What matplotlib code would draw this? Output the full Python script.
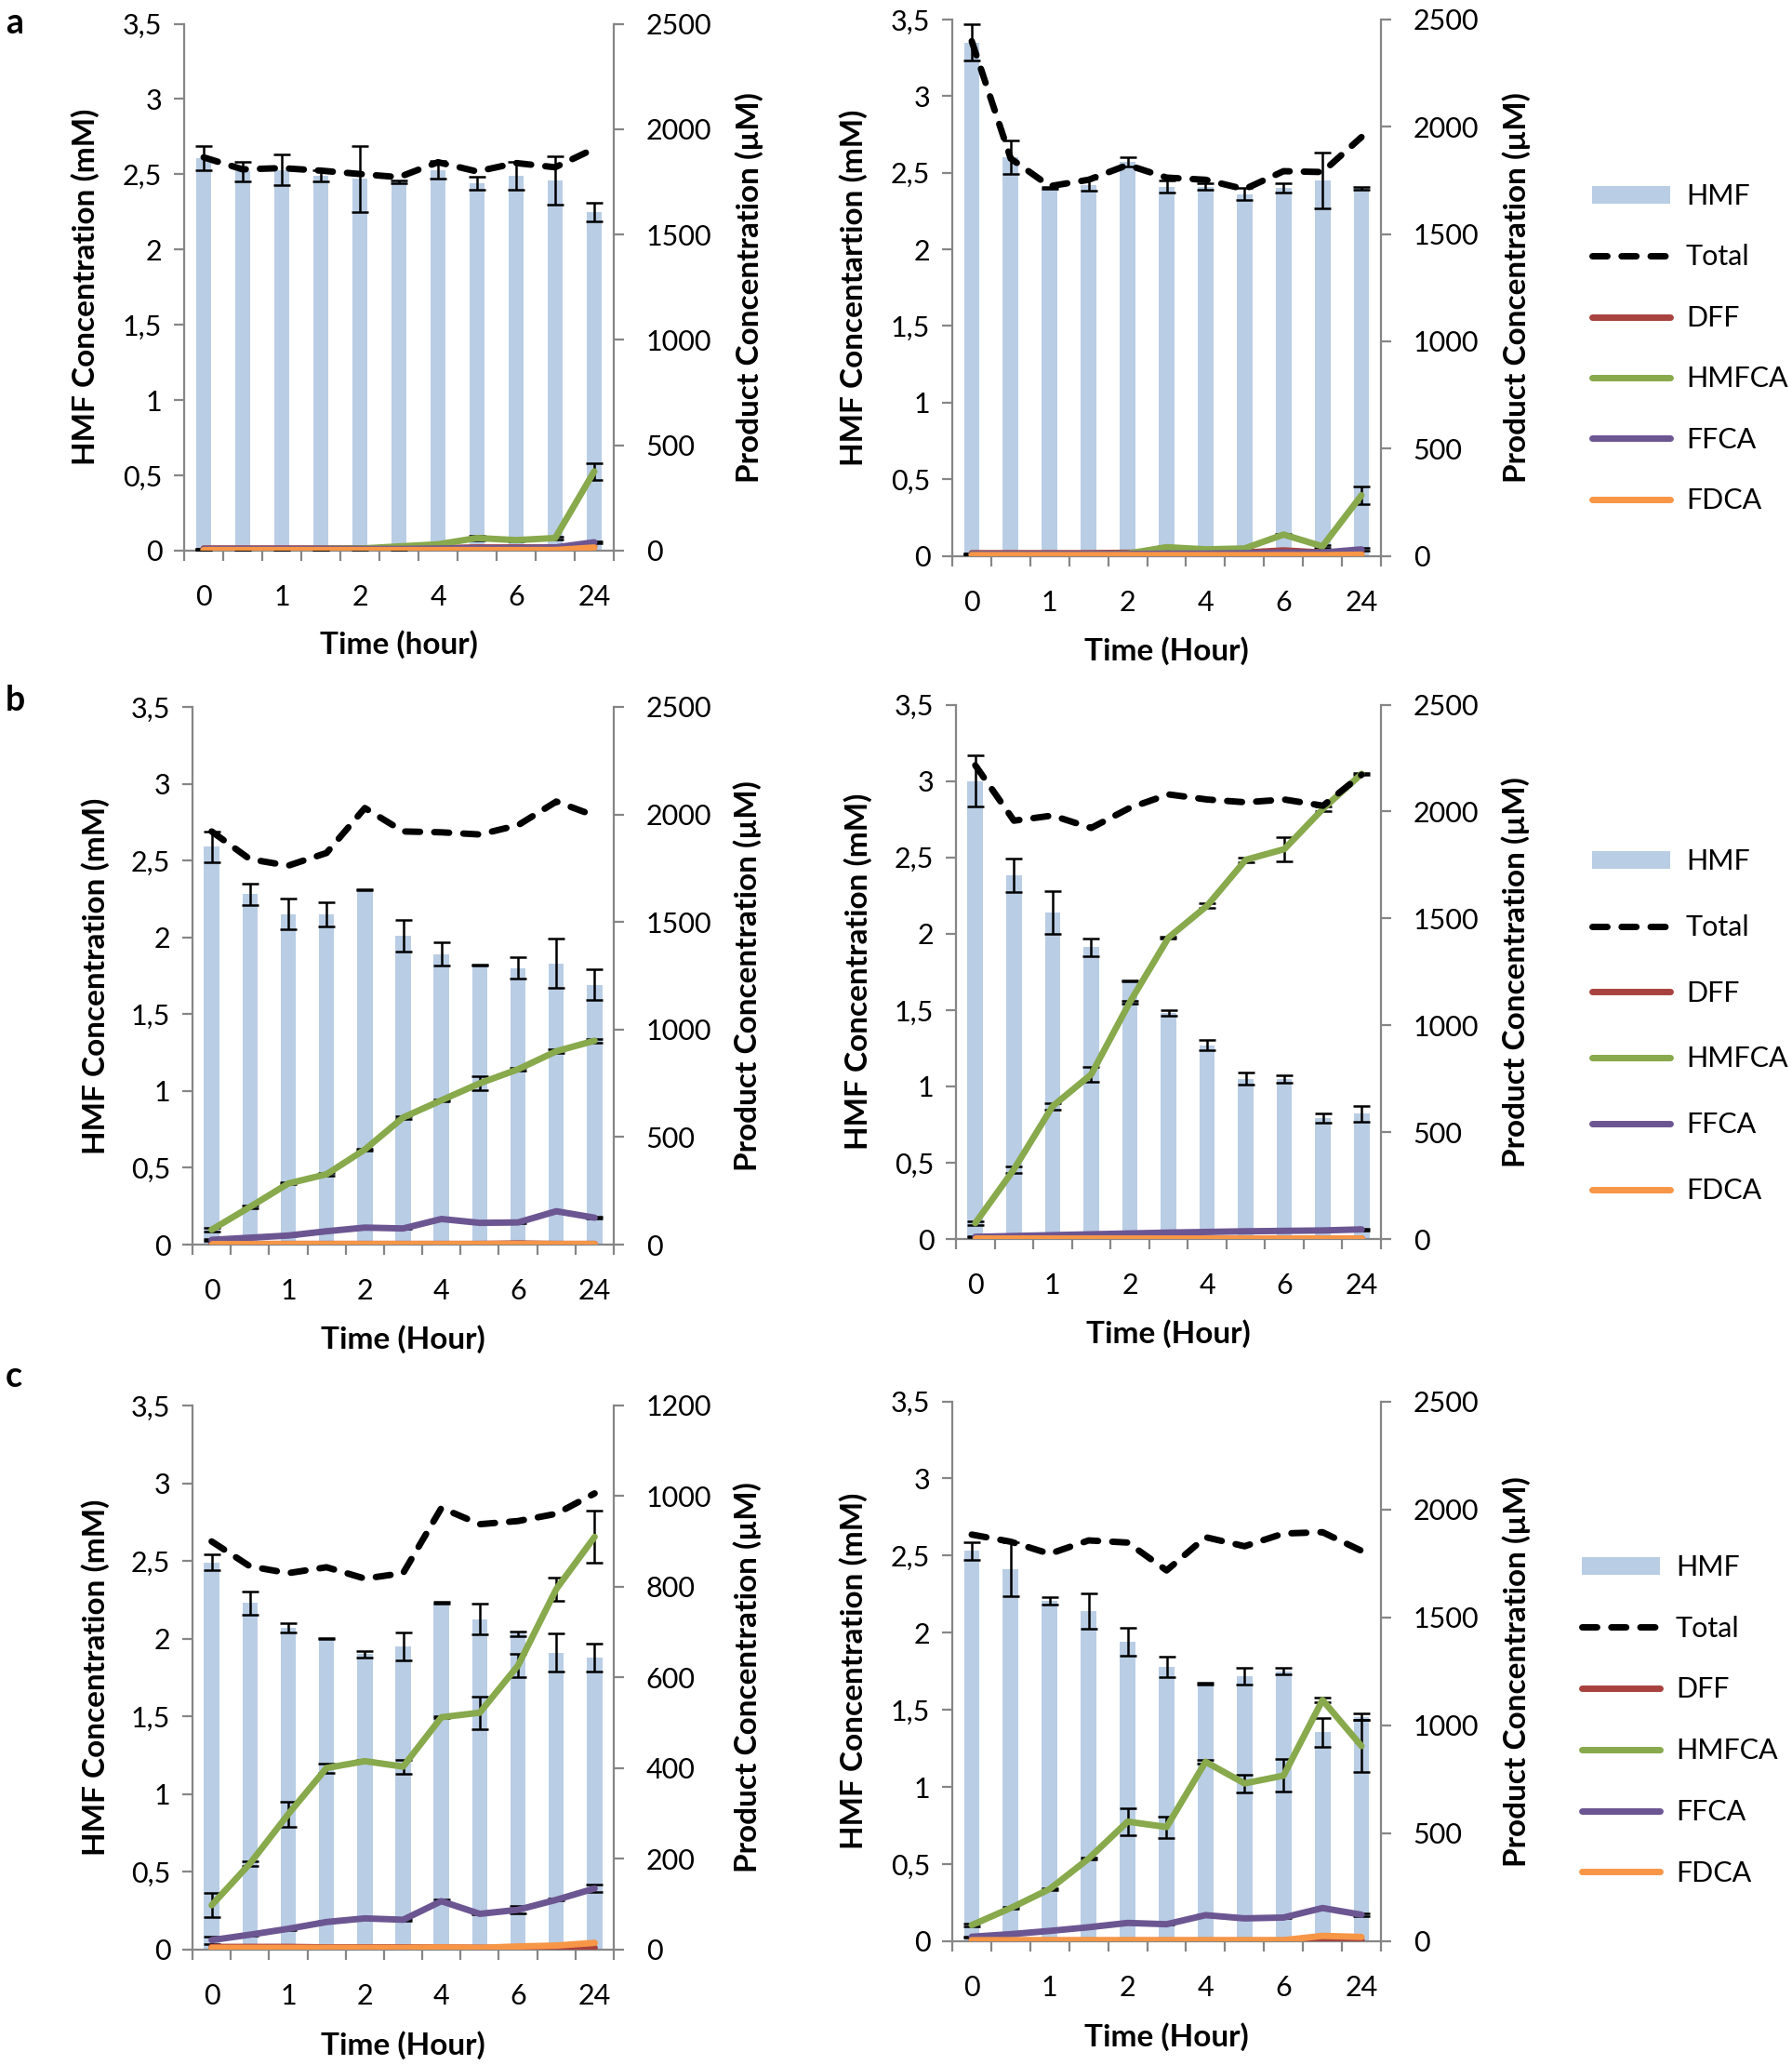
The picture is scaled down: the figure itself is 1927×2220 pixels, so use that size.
import numpy as np
import matplotlib
matplotlib.use("Agg")
import matplotlib.pyplot as plt
from matplotlib.patches import Patch
from matplotlib.lines import Line2D

# ---------------- data ----------------
x_tick_labels = ["0", "", "1", "", "2", "", "4", "", "6", "", "24"]
left_tick_labels = ["0", "0,5", "1", "1,5", "2", "2,5", "3", "3,5"]
series_names = ["HMF", "Total", "DFF", "HMFCA", "FFCA", "FDCA"]

# panel a, left
hmf_a1 = [2.61, 2.52, 2.53, 2.49, 2.47, 2.45, 2.53, 2.44, 2.49, 2.46, 2.25]
hmf_a1_err = [0.08, 0.065, 0.10, 0.04, 0.22, 0.01, 0.06, 0.045, 0.09, 0.16, 0.06]
total_a1 = [1866, 1809, 1815, 1803, 1787, 1772, 1843, 1799, 1839, 1819, 1907]
dff_a1 = [10, 10, 10, 10, 10, 10, 12, 15, 15, 15, 20]
hmfca_a1 = [5, 5, 6, 8, 10, 20, 30, 60, 50, 60, 376]
hmfca_a1_err = [2, 2, 2, 2, 2, 3, 3, 10, 5, 8, 40]
ffca_a1 = [8, 8, 8, 8, 8, 8, 10, 12, 12, 15, 40]
ffca_a1_err = [2, 2, 2, 2, 2, 2, 2, 2, 2, 2, 5]
fdca_a1 = [3, 3, 3, 3, 3, 3, 3, 3, 3, 3, 15]

# panel a, right
hmf_a2 = [3.35, 2.60, 2.40, 2.42, 2.57, 2.41, 2.41, 2.36, 2.40, 2.45, 2.40]
hmf_a2_err = [0.12, 0.11, 0.005, 0.04, 0.03, 0.04, 0.02, 0.04, 0.03, 0.18, 0.01]
total_a2 = [2399, 1852, 1723, 1753, 1822, 1763, 1753, 1709, 1793, 1789, 1952]
dff_a2 = [12, 12, 12, 12, 14, 15, 15, 15, 25, 15, 20]
hmfca_a2 = [8, 8, 8, 8, 10, 40, 30, 34, 99, 44, 282]
hmfca_a2_err = [2, 2, 2, 2, 2, 5, 3, 3, 5, 5, 43]
ffca_a2 = [8, 8, 8, 8, 8, 10, 10, 12, 15, 15, 30]
ffca_a2_err = [2, 2, 2, 2, 2, 2, 2, 2, 2, 2, 5]
fdca_a2 = [3, 3, 3, 3, 3, 3, 3, 3, 3, 3, 5]

# panel b, left
hmf_b1 = [2.59, 2.28, 2.15, 2.15, 2.31, 2.01, 1.89, 1.82, 1.80, 1.83, 1.69]
hmf_b1_err = [0.10, 0.07, 0.10, 0.08, 0.005, 0.105, 0.075, 0.005, 0.07, 0.16, 0.10]
total_b1 = [1921, 1792, 1762, 1821, 2030, 1921, 1917, 1907, 1950, 2060, 1994]
dff_b1 = [3, 3, 3, 3, 3, 3, 3, 3, 5, 3, 3]
hmfca_b1 = [69, 175, 284, 327, 442, 591, 671, 750, 815, 899, 948]
hmfca_b1_err = [8, 5, 5, 5, 5, 5, 5, 32, 5, 8, 8]
ffca_b1 = [22, 32, 42, 62, 79, 75, 119, 101, 103, 155, 125]
ffca_b1_err = [3, 2, 2, 2, 2, 2, 2, 2, 3, 2, 5]
fdca_b1 = [3, 3, 3, 3, 3, 3, 3, 3, 3, 3, 3]

# panel b, right
hmf_b2 = [3.00, 2.38, 2.14, 1.91, 1.69, 1.48, 1.27, 1.05, 1.05, 0.79, 0.82]
hmf_b2_err = [0.165, 0.11, 0.14, 0.055, 0.005, 0.02, 0.035, 0.04, 0.025, 0.03, 0.05]
total_b2 = [2216, 1957, 1981, 1923, 2017, 2080, 2056, 2043, 2056, 2027, 2172]
dff_b2 = [3, 3, 3, 3, 3, 3, 3, 3, 3, 3, 3]
hmfca_b2 = [74, 326, 621, 770, 1108, 1410, 1559, 1774, 1824, 2013, 2176]
hmfca_b2_err = [10, 15, 15, 36, 5, 5, 10, 10, 58, 10, 5]
ffca_b2 = [10, 14, 18, 22, 26, 30, 33, 36, 38, 40, 45]
ffca_b2_err = [2, 2, 2, 2, 2, 2, 2, 2, 2, 2, 5]
fdca_b2 = [3, 3, 3, 3, 3, 3, 3, 3, 3, 3, 3]

# panel c, left
hmf_c1 = [2.49, 2.23, 2.07, 2.00, 1.90, 1.95, 2.23, 2.125, 2.03, 1.91, 1.875]
hmf_c1_err = [0.05, 0.075, 0.03, 0.005, 0.02, 0.09, 0.005, 0.10, 0.015, 0.12, 0.09]
total_c1 = [900, 845, 830, 843, 818, 830, 974, 938, 945, 961, 1006]
dff_c1 = [5, 5, 5, 4, 4, 4, 4, 3, 3, 3, 3]
hmfca_c1 = [97, 189, 298, 400, 415, 403, 512, 522, 626, 795, 910]
hmfca_c1_err = [27, 5, 27, 10, 2, 15, 2, 36, 25, 26, 57]
ffca_c1 = [20, 32, 45, 60, 68, 65, 106, 78, 87, 109, 134]
ffca_c1_err = [8, 2, 2, 2, 2, 2, 3, 2, 8, 2, 8]
fdca_c1 = [3, 3, 3, 3, 3, 3, 4, 3, 6, 8, 14]

# panel c, right
hmf_c2 = [2.53, 2.41, 2.205, 2.14, 1.94, 1.78, 1.67, 1.72, 1.75, 1.355, 1.455]
hmf_c2_err = [0.055, 0.175, 0.025, 0.115, 0.09, 0.065, 0.005, 0.055, 0.02, 0.095, 0.02]
total_c2 = [1883, 1850, 1794, 1856, 1846, 1717, 1871, 1829, 1888, 1894, 1808]
dff_c2 = [3, 3, 3, 3, 3, 3, 3, 3, 3, 10, 5]
hmfca_c2 = [75, 154, 242, 383, 554, 529, 831, 731, 767, 1117, 904]
hmfca_c2_err = [5, 5, 5, 5, 61, 49, 10, 40, 75, 10, 120]
ffca_c2 = [21, 33, 48, 65, 85, 79, 121, 106, 110, 154, 123]
ffca_c2_err = [2, 2, 2, 2, 2, 2, 2, 2, 2, 2, 5]
fdca_c2 = [5, 5, 5, 5, 5, 5, 5, 5, 5, 25, 20]

# ---------------- style ----------------
plt.rcParams['font.family'] = ['Lato', 'DejaVu Sans']
C_BAR = '#B9CDE5'
C_TOTAL = '#000000'
C_DFF = '#A8423F'
C_HMFCA = '#88A94C'
C_FFCA = '#6C5692'
C_FDCA = '#F79646'
C_AXIS = '#868686'
TICK_FS = 22
LABEL_FS = 24
LW = 5.0
DASH = (0, (2.3, 2.2))

fig = plt.figure(figsize=(19.27, 22.20), dpi=100)
W, H = 1927.0, 2220.0


def rect(x0, x1, top, bottom):
    return [x0 / W, 1 - bottom / H, (x1 - x0) / W, (bottom - top) / H]


def panel(r, hmf, hmf_err, total, dff, hmfca, hmfca_err, ffca, ffca_err, fdca,
          rmax, rstep, left_label, xlabel):
    ax = fig.add_axes(r)
    x = np.arange(len(hmf))
    ax.bar(x, hmf, width=0.40, color=C_BAR, zorder=1)
    ax.errorbar(x, hmf, yerr=hmf_err, fmt='none', ecolor='black',
                elinewidth=1.8, capsize=6.5, capthick=1.8, zorder=2)
    ax.set_xlim(-0.5, len(hmf) - 0.5)
    ax.set_ylim(0, 3.5)
    ax.set_yticks(np.arange(0, 3.51, 0.5))
    ax.set_yticklabels(left_tick_labels)
    ax.set_xticks(x)
    ax.set_xticklabels(x_tick_labels)
    ax.set_xticks(np.arange(-0.5, len(hmf), 1.0), minor=True)
    ax.tick_params(axis='x', which='major', length=0, pad=26, labelsize=TICK_FS)
    ax.tick_params(axis='x', which='minor', length=8, width=1.6, color=C_AXIS, direction='out')
    ax.tick_params(axis='y', which='major', length=8, width=1.6, color=C_AXIS,
                   direction='out', pad=9, labelsize=TICK_FS)
    for s in ['top', 'right']:
        ax.spines[s].set_visible(False)
    for s in ['left', 'bottom']:
        ax.spines[s].set_color(C_AXIS)
        ax.spines[s].set_linewidth(1.6)
    ax.set_ylabel(left_label, fontsize=LABEL_FS, fontweight='bold')
    ax.yaxis.set_label_coords(-0.197, 0.5)
    ax.set_xlabel(xlabel, fontsize=LABEL_FS, fontweight='bold')
    ax.xaxis.set_label_coords(0.5, -0.15)

    ax2 = ax.twinx()
    ax2.set_ylim(0, rmax)
    ax2.set_yticks(np.arange(0, rmax + 1, rstep))
    ax2.tick_params(axis='y', length=8, width=1.6, color=C_AXIS, direction='out',
                    pad=17, labelsize=TICK_FS)
    for s in ['top', 'left', 'bottom']:
        ax2.spines[s].set_visible(False)
    ax2.spines['right'].set_color(C_AXIS)
    ax2.spines['right'].set_linewidth(1.6)
    ax2.set_ylabel('Product Concentration (µM)', fontsize=LABEL_FS, fontweight='bold')
    ax2.yaxis.set_label_coords(1.282, 0.5)

    ax2.errorbar(x, hmfca, yerr=hmfca_err, fmt='none', ecolor='black',
                 elinewidth=1.8, capsize=6.5, capthick=1.8, zorder=2)
    ax2.errorbar(x, ffca, yerr=ffca_err, fmt='none', ecolor='black',
                 elinewidth=1.8, capsize=6.5, capthick=1.8, zorder=2)
    ax2.plot(x, dff, color=C_DFF, lw=LW, solid_capstyle='round', zorder=3)
    ax2.plot(x, hmfca, color=C_HMFCA, lw=LW, solid_capstyle='round', zorder=4)
    ax2.plot(x, ffca, color=C_FFCA, lw=LW, solid_capstyle='round', zorder=4)
    ax2.plot(x, fdca, color=C_FDCA, lw=LW, solid_capstyle='round', zorder=5)
    ax2.plot(x, total, color=C_TOTAL, lw=LW, linestyle=DASH,
             dash_capstyle='round', zorder=6)
    return ax, ax2


panel(rect(198, 660, 25.5, 592), hmf_a1, hmf_a1_err, total_a1, dff_a1, hmfca_a1,
      hmfca_a1_err, ffca_a1, ffca_a1_err, fdca_a1, 2500, 500,
      'HMF Concentration (mM)', 'Time (hour)')
panel(rect(1024, 1485, 21, 597.5), hmf_a2, hmf_a2_err, total_a2, dff_a2, hmfca_a2,
      hmfca_a2_err, ffca_a2, ffca_a2_err, fdca_a2, 2500, 500,
      'HMF Concentartion (mM)', 'Time (Hour)')
panel(rect(207, 660, 760, 1338), hmf_b1, hmf_b1_err, total_b1, dff_b1, hmfca_b1,
      hmfca_b1_err, ffca_b1, ffca_b1_err, fdca_b1, 2500, 500,
      'HMF Concentration (mM)', 'Time (Hour)')
panel(rect(1028, 1485, 757.5, 1332), hmf_b2, hmf_b2_err, total_b2, dff_b2, hmfca_b2,
      hmfca_b2_err, ffca_b2, ffca_b2_err, fdca_b2, 2500, 500,
      'HMF Concentration (mM)', 'Time (Hour)')
panel(rect(207, 660, 1511, 2095.5), hmf_c1, hmf_c1_err, total_c1, dff_c1, hmfca_c1,
      hmfca_c1_err, ffca_c1, ffca_c1_err, fdca_c1, 1200, 200,
      'HMF Concentration (mM)', 'Time (Hour)')
panel(rect(1024, 1485, 1506.5, 2087), hmf_c2, hmf_c2_err, total_c2, dff_c2, hmfca_c2,
      hmfca_c2_err, ffca_c2, ffca_c2_err, fdca_c2, 2500, 500,
      'HMF Concentration (mM)', 'Time (Hour)')

# panel letters
for letter, yy in [('a', 25), ('b', 753), ('c', 1480)]:
    fig.text(6 / W, 1 - yy / H, letter, fontsize=27, fontweight='bold', va='center', ha='left')

# legends
handles = [Patch(facecolor=C_BAR, edgecolor='none'),
           Line2D([], [], color=C_TOTAL, lw=LW, linestyle=DASH, dash_capstyle='round'),
           Line2D([], [], color=C_DFF, lw=LW, solid_capstyle='round'),
           Line2D([], [], color=C_HMFCA, lw=LW, solid_capstyle='round'),
           Line2D([], [], color=C_FFCA, lw=LW, solid_capstyle='round'),
           Line2D([], [], color=C_FDCA, lw=LW, solid_capstyle='round')]
for (lx, ly, sp) in [(1712, 197, 1.225), (1712, 912, 1.40), (1701, 1671, 1.235)]:
    fig.legend(handles, series_names, loc='upper left', bbox_to_anchor=(lx / W, 1 - ly / H),
               frameon=False, borderpad=0, borderaxespad=0, fontsize=TICK_FS,
               handlelength=2.75, handletextpad=0.55, labelspacing=sp, handleheight=0.6)

fig.savefig('out.png', dpi=100)
